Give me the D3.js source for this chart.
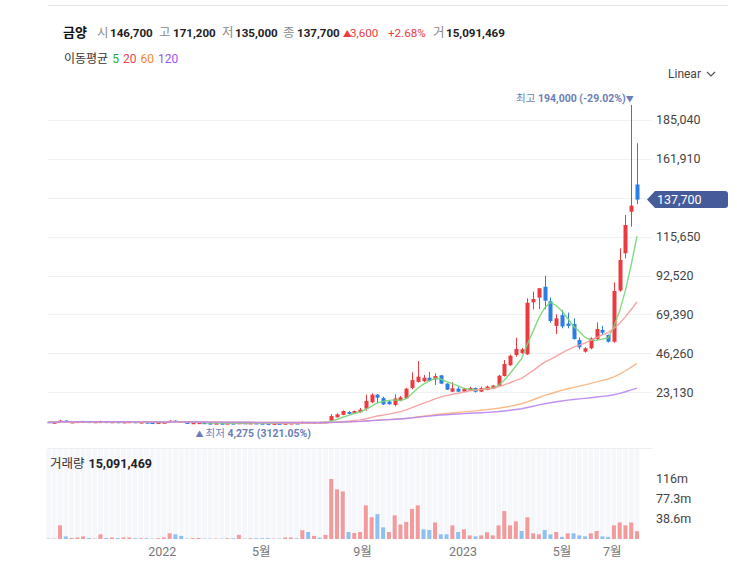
<!DOCTYPE html>
<html><head><meta charset="utf-8">
<script src="https://cdn.jsdelivr.net/npm/d3@7"></script>
<style>
html,body{margin:0;padding:0;background:#fff;}
svg{display:block;font-family:Roboto,"Noto Sans CJK KR","Noto Sans",sans-serif;}
</style></head>
<body><svg id="c" width="737" height="582"></svg>
<script>
// ---- data ----
const startWeek = new Date(2021, 7, 16);
const endWeek = new Date(2023, 6, 31);
const open = [5600,5000,5300,6300,5300,5500,5650,5700,5500,5550,5700,5450,5600,5400,5500,5600,5250,5350,5150,5050,5150,5300,6300,5800,5200,4850,4700,5050,4800,4650,4750,4600,4800,4650,4950,4800,4900,4750,4650,4550,4650,4550,4700,4850,4750,5400,5100,5400,5000,
6300,8300,9700,11400,10600,11300,13400,17200,21700,19700,17700,15600,18200,19500,25700,29300,29700,31800,30800,33200,28300,23500,25300,23500,24100,25700,23500,24500,25300,27000,32800,39200,45300,46500,45700,76600,79400,85900,77300,62600,69000,64000,63700,54200,47300,49300,54800,60200,57200,53200,83600,105800,130500,146700];
const high = [5800,5400,6700,6600,5600,5800,5850,5750,5650,6300,5750,5650,5650,5600,5750,5650,5450,5400,5200,5200,5400,6500,6400,5850,5250,5050,5200,5100,4850,4800,4800,4850,4850,5300,5000,4950,4950,4800,4700,4700,4700,4750,4900,4900,5900,5600,5400,5600,5700,
10200,10600,12300,12000,12300,13800,21700,22500,22100,20500,18000,21900,20900,25800,35000,41700,33400,35200,34400,33500,28500,29200,26500,25800,26500,26000,26500,27100,27500,33500,42300,45500,55600,49500,79000,83000,85000,92500,79600,69500,72000,70500,67100,55800,50000,55800,64700,62600,57500,88500,108700,128600,194000,171200];
const low = [5200,4900,5200,5300,5250,5400,5600,5450,5450,5500,5450,5400,5400,5350,5450,5250,5200,5100,5000,5000,5100,5250,5850,5150,4850,4800,4275,4750,4600,4600,4550,4550,4600,4600,4750,4750,4700,4600,4500,4500,4500,4500,4650,4700,4700,5050,5050,4900,4950,
6000,8100,9500,10000,10400,11000,12200,16600,16600,15700,15800,14800,17800,19300,24900,29000,29300,29800,27500,28000,24500,23300,23300,23200,23900,23000,23300,24300,25000,26800,32500,38800,44300,46000,45300,72500,72600,72500,64500,57800,61200,61200,54500,48700,46700,48700,54200,57200,52800,52600,83000,102800,121600,135000];
const close = [5300,5300,6300,5400,5500,5700,5750,5500,5600,5700,5500,5600,5450,5500,5650,5300,5400,5150,5050,5150,5300,6200,5900,5200,4900,5000,5100,4800,4650,4750,4600,4800,4650,5000,4800,4900,4750,4650,4550,4650,4550,4700,4850,4750,5400,5100,5300,5000,5600,
9000,10000,12000,10300,12000,12800,18000,21700,19900,15900,16000,19500,20100,25300,30400,32400,31800,29900,32800,28300,24700,25500,23500,25300,25700,23500,25700,26500,27100,33000,40000,44900,48900,48700,76400,78600,85000,77600,65500,67100,62300,62600,54800,49900,49300,55200,60800,58600,53200,83400,101800,122600,134100,137700];
const volumeM = [0.8,0.8,26.4,5,2,3,5,2,0.8,9,2,3,2,3,3,1.5,1.5,1.5,0.8,1.5,3,11,9,6,0.8,1.5,2,0.8,0.8,0.8,0.8,1.5,1.5,8,0.8,1.5,1.5,1.5,1.5,0.8,0.8,3,3,1.5,17,13.5,6,2.5,8,
116,96,92,13.5,11.6,13.5,65,42,48,22.5,13.5,45.7,28,33,58,65,18.7,17.4,32,9,9,26.4,13.5,18.7,7,5,7,13,7,26.4,54,26.4,34,15.5,42,11,9,17.4,9,13.5,4,11,11,7,5,11,15.5,5,4,26.4,32,26.4,32,15.091469];
const priceTicks = [23130,46260,69390,92520,115650,138780,161910,185040];
const volTicks = [38.65,77.3,115.95];
const volTickLabels = ["38.6m","77.3m","116m"];
const monthTickDates = [new Date(2022,0,1),new Date(2022,4,1),new Date(2022,8,1),new Date(2023,0,1),new Date(2023,4,1),new Date(2023,6,1)];
const monthTickLabels = ["2022","5월","9월","2023","5월","7월"];
const maPeriods = [5,20,60,120];
const maLineColors = ["#74d674","#f59b9b","#f8b47c","#b985f3"];
const maLegendColors = ["#22b322","#f04452","#f5862a","#9b55f0"];
const header = {name:"금양", o:"146,700", h:"171,200", l:"135,000", c:"137,700", chg:"3,600", pct:"+2.68%", vol:"15,091,469"};

const weeks = d3.timeMonday.range(startWeek, d3.timeDay.offset(endWeek,1));
const RED="#ec3b40", BLUE="#2a7ee6";
const fmt = d3.format(",");
const pctFmt = v => d3.format(".2f")(v).replace("\u2212","-");

const svg = d3.select("#c");
const x = d3.scaleTime().domain([weeks[0], weeks[weeks.length-1]]).range([48.5, 637]);
const y = d3.scaleLinear().domain([0, 200000]).range([431.2, 431.2 - 200000/594.6]);
const yv = d3.scaleLinear().domain([0, 173.9]).range([539, 449]);

svg.append("rect").attr("width",737).attr("height",582).attr("fill","#fff");
svg.append("line").attr("x1",48).attr("x2",728).attr("y1",5.5).attr("y2",5.5).attr("stroke","#e6e6e6");

// header (positions per piece)
const hg = svg.append("g").attr("font-size",11.6);
const hitems = [
  {t:header.name, x:63, w:"bold", c:"#111", fs:13},
  {t:"시", x:97, c:"#8a8a8a", fs:12.5}, {t:header.o, x:110, w:"bold", c:"#222"},
  {t:"고", x:159, c:"#8a8a8a", fs:12.5}, {t:header.h, x:173, w:"bold", c:"#222"},
  {t:"저", x:222, c:"#8a8a8a", fs:12.5}, {t:header.l, x:235, w:"bold", c:"#222"},
  {t:"종", x:283, c:"#8a8a8a", fs:12.5}, {t:header.c, x:297, w:"bold", c:"#222"},
  {t:"▲", x:343, c:RED, fs:8.5}, {t:header.chg, x:350, c:RED},
  {t:header.pct, x:388, c:RED},
  {t:"거", x:433, c:"#8a8a8a", fs:12.5}, {t:header.vol, x:446, w:"bold", c:"#222"}
];
hg.selectAll("text").data(hitems).join("text")
  .attr("x",d=>d.x).attr("y",37).attr("fill",d=>d.c)
  .attr("font-weight",d=>d.w||"normal").attr("font-size",d=>d.fs||null).text(d=>d.t);

const lg = svg.append("text").attr("x",64).attr("y",63).attr("font-size",12).attr("fill","#333");
lg.append("tspan").text("이동평균");
maPeriods.forEach((p,i)=>lg.append("tspan").attr("dx",4).attr("fill",maLegendColors[i]).text(p));

svg.append("text").attr("x",668).attr("y",78).attr("font-size",12).attr("fill","#444").text("Linear");
svg.append("path").attr("d","M707,72 L711,76 L715,72").attr("fill","none").attr("stroke","#555").attr("stroke-width",1.2);

// gridlines + price axis
const last = close[close.length-1];
svg.append("g").selectAll("line").data(priceTicks).join("line")
  .attr("x1",48).attr("x2",652).attr("y1",d=>Math.round(y(d))+0.5).attr("y2",d=>Math.round(y(d))+0.5)
  .attr("stroke","#eff1f5");
svg.append("g").selectAll("text").data(priceTicks.filter(d=>Math.abs(y(d)-y(last))>14)).join("text")
  .attr("x",656).attr("y",d=>y(d)).attr("dy","0.35em").attr("font-size",12.5).attr("fill","#444")
  .text(d=>fmt(d));
svg.append("line").attr("x1",48).attr("x2",652).attr("y1",448.5).attr("y2",448.5).attr("stroke","#eceef2");

// volume stripes background
const defs = svg.append("defs");
defs.append("clipPath").attr("id","clip").append("rect").attr("x",46).attr("y",0).attr("width",600).attr("height",582);
const pv = svg.append("g").attr("clip-path","url(#clip)");
pv.selectAll("rect.bg").data(weeks).join("rect").attr("class","bg")
  .attr("x",d=>x(d)-2.4).attr("width",4.8).attr("y",449).attr("height",90).attr("fill","#f6f7fb");

// volume bars
const volUp = close.map((c,i)=> i===0 ? c>=open[0] : c>=close[i-1]);
pv.selectAll("rect.v").data(volumeM).join("rect").attr("class","v")
  .attr("x",(d,i)=>x(weeks[i])-2).attr("width",4)
  .attr("y",d=>yv(d)).attr("height",d=>yv(0)-yv(d))
  .attr("fill",(d,i)=>volUp[i]?"#f29a9c":"#8fc0f3");

svg.append("g").selectAll("text").data(volTicks).join("text")
  .attr("x",656).attr("y",d=>yv(d)).attr("dy","0.35em").attr("font-size",12.5).attr("fill","#444")
  .text((d,i)=>volTickLabels[i]);
const vt = svg.append("text").attr("x",50).attr("y",468).attr("font-size",12.5).attr("fill","#333");
vt.append("tspan").text("거래량");
vt.append("tspan").attr("dx",4).attr("font-weight","bold").attr("fill","#222").text(header.vol);

// x axis labels
svg.append("g").selectAll("text").data(monthTickDates).join("text")
  .attr("x",d=>x(d)).attr("y",556).attr("text-anchor","middle").attr("font-size",12.5).attr("fill","#777")
  .text((d,i)=>monthTickLabels[i]);

// candles
const pc = svg.append("g").attr("clip-path","url(#clip)");
const idx = d3.range(weeks.length);
pc.selectAll("line.w").data(idx).join("line").attr("class","w")
  .attr("x1",i=>Math.round(x(weeks[i]))+0.5).attr("x2",i=>Math.round(x(weeks[i]))+0.5)
  .attr("y1",i=>y(high[i])).attr("y2",i=>y(low[i]))
  .attr("stroke",i=>close[i]>=open[i]?RED:BLUE).attr("stroke-width",1);
pc.selectAll("rect.b").data(idx).join("rect").attr("class","b")
  .attr("x",i=>Math.round(x(weeks[i]))-1.5).attr("width",4)
  .attr("y",i=>y(Math.max(open[i],close[i])))
  .attr("height",i=>Math.max(1.5, Math.abs(y(open[i])-y(close[i]))))
  .attr("fill",i=>close[i]>=open[i]?RED:BLUE);

// moving averages
maPeriods.forEach((p,k)=>{
  const ma = close.map((c,i)=>d3.mean(close.slice(Math.max(0,i-p+1), i+1)));
  pc.append("path").datum(ma)
    .attr("d", d3.line().x((d,i)=>x(weeks[i])).y(d=>y(d)))
    .attr("fill","none").attr("stroke",maLineColors[k]).attr("stroke-width",1.4).attr("opacity",0.9);
});

// annotations
const hiIdx = d3.maxIndex(high), loIdx = d3.minIndex(low);
const ANN="#6b7eb8";
const ah = svg.append("text").attr("x",x(weeks[hiIdx])+2.5).attr("y",y(high[hiIdx])-3).attr("text-anchor","end")
  .attr("font-size",10.5).attr("fill",ANN);
ah.append("tspan").text("최고 ");
ah.append("tspan").attr("font-weight","bold").text(fmt(high[hiIdx])+" ("+pctFmt((last/high[hiIdx]-1)*100)+"%)");
ah.append("tspan").attr("font-size",8).text("▼");
const al = svg.append("text").attr("x",x(weeks[loIdx])-3).attr("y",y(low[loIdx])+13).attr("font-size",10.5).attr("fill",ANN);
al.append("tspan").attr("font-size",8).text("▲");
al.append("tspan").attr("dx",2).text("최저 ");
al.append("tspan").attr("font-weight","bold").text(fmt(low[loIdx])+" ("+pctFmt((last/low[loIdx]-1)*100)+"%)");

// last price tag
const ty = y(last);
svg.append("path").attr("d",`M647,${ty} L655,${ty-8.5} L725,${ty-8.5} Q728,${ty-8.5} 728,${ty-5.5} L728,${ty+5.5} Q728,${ty+8.5} 725,${ty+8.5} L655,${ty+8.5} Z`)
  .attr("fill","#465c9a");
svg.append("text").attr("x",657).attr("y",ty).attr("dy","0.35em").attr("font-size",12.5).attr("fill","#fff").text(fmt(last));
</script></body></html>
